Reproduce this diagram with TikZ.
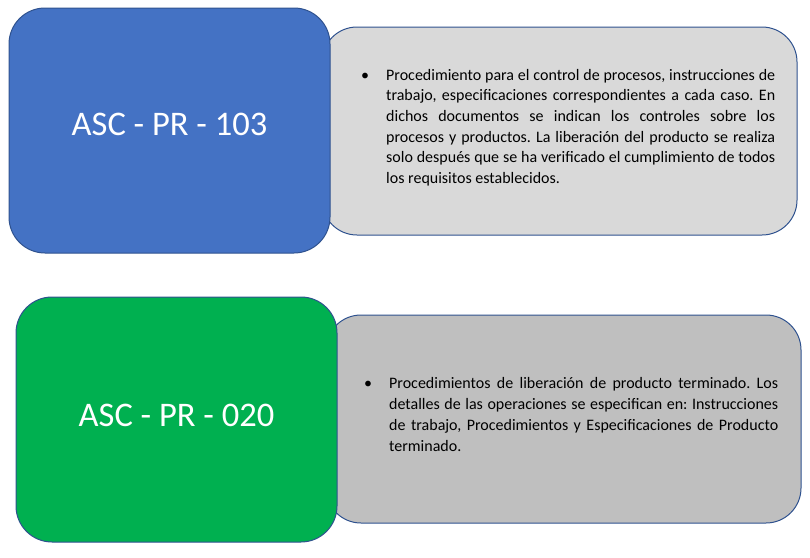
\documentclass[tikz,border=0pt]{standalone}
\usepackage{fontspec}
\setmainfont{Carlito}
\definecolor{boxblue}{HTML}{4472C4}
\definecolor{boxgreen}{HTML}{00B050}
\definecolor{greyA}{HTML}{D9D9D9}
\definecolor{greyB}{HTML}{BFBFBF}
\definecolor{edge}{HTML}{2F528F}
\tikzset{
  codebox/.style={draw=edge, line width=1pt, rounded corners=36pt, inner sep=0pt,
    minimum width=321pt, minimum height=245pt, text=white,
    font=\fontsize{34.5}{40}\selectfont, text depth=12pt},
  descbox/.style={draw=edge, line width=1pt, rounded corners=35pt, inner sep=0pt,
    minimum width=475pt, minimum height=208pt},
  desctext/.style={anchor=north west, inner sep=0pt, align=justify,
    font=\fontsize{16}{20.6}\selectfont},
}
\newcommand{\bulletpar}[1]{\frenchspacing\hyphenpenalty=10000\exhyphenpenalty=10000\leftskip=24pt\noindent\hspace*{-24pt}\makebox[24pt][l]{\hspace{-1pt}\textbullet}#1\par}
\begin{document}
\begin{tikzpicture}[x=1pt,y=-1pt]
\useasboundingbox (0,0) rectangle (810,557);
% top row
\node[descbox, fill=greyA] (d1) at (559.5,131) {};
\node[codebox, fill=boxblue] (b1) at (169.5,130.5) {ASC - PR - 103};
\node[desctext, text width=413pt] (t1) at (362,69) {\bulletpar{Procedimiento para el control de procesos, instrucciones de\linebreak trabajo, especificaciones correspondientes a cada caso. En\linebreak dichos documentos se indican los controles sobre los\linebreak procesos y productos. La liberación del producto se realiza\linebreak solo después que se ha verificado el cumplimiento de todos\linebreak los requisitos establecidos.}};
% bottom row
\node[descbox, fill=greyB] (d2) at (563.5,419) {};
\node[codebox, fill=boxgreen, text depth=9pt] (b2) at (176.5,419.5) {ASC - PR - 020};
\node[desctext, text width=413pt, font=\fontsize{16}{21.2}\selectfont] (t2) at (365,377) {\bulletpar{Procedimientos de liberación de producto terminado. Los\linebreak detalles de las operaciones se especifican en: Instrucciones\linebreak de trabajo, Procedimientos y Especificaciones de Producto\linebreak terminado.}};
\end{tikzpicture}
\end{document}
